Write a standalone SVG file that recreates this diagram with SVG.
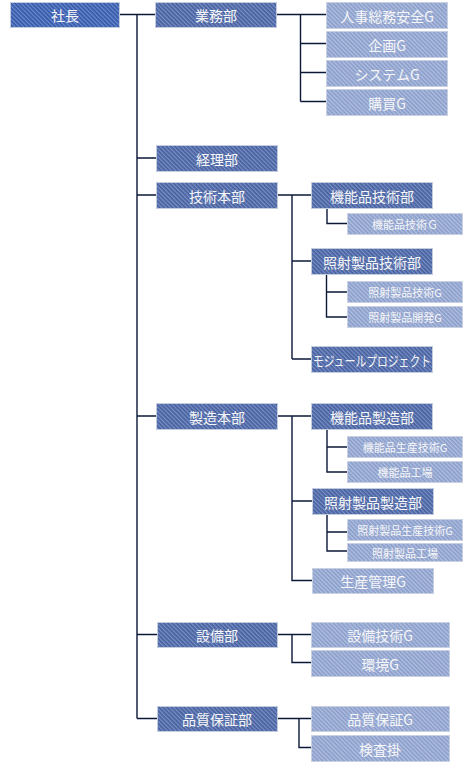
<svg xmlns="http://www.w3.org/2000/svg" width="473" height="773" viewBox="0 0 473 773">
<defs>
<pattern id="pTop" width="3" height="3" patternUnits="userSpaceOnUse" patternTransform="rotate(-45)">
<rect width="3" height="3" fill="#3558a6"/><rect width="1.3" height="3" fill="#6a8ad0"/>
</pattern>
<pattern id="pDept" width="3" height="3" patternUnits="userSpaceOnUse" patternTransform="rotate(-45)">
<rect width="3" height="3" fill="#475f9c"/><rect width="1.3" height="3" fill="#7890c6"/>
</pattern>
<pattern id="pG" width="3" height="3" patternUnits="userSpaceOnUse" patternTransform="rotate(-45)">
<rect width="3" height="3" fill="#8a9ecb"/><rect width="1.3" height="3" fill="#b2c0df"/>
</pattern>
<style>
.top{fill:url(#pTop);stroke:#c4cce0;stroke-width:1}
.dept{fill:url(#pDept);stroke:#c4cce0;stroke-width:1}
.g{fill:url(#pG);stroke:#c8d0e2;stroke-width:1}
text{font-family:"Noto Sans CJK JP","Noto Sans",sans-serif;fill:#f6f6f8;text-anchor:middle;dominant-baseline:central;font-size:14px}
text.s{font-size:11px}
.c{fill:none;stroke:#0b1838;stroke-width:1.4}
</style>
</defs>
<g id="connectors">
<path class="c" d="M119,14.5H155M137,14.5V718.5M137,158H156M137,195H156M137,416H156M137,634.5H157M137,718.5H157"/>
<path class="c" d="M276,14.5H326M300.5,14.5V101.5M300.5,43.5H326M300.5,72.5H326M300.5,101.5H326"/>
<path class="c" d="M277,195H311M292,195V359M292,261H311M292,359H311"/>
<path class="c" d="M327,208V223.5H347"/>
<path class="c" d="M326.5,274V317H347M326.5,292H347"/>
<path class="c" d="M277,416H311M292,416V580.5H312M292,501H312"/>
<path class="c" d="M327,429V472H347M327,447H347"/>
<path class="c" d="M327,514V551H347M327,532H347"/>
<path class="c" d="M277,634.5H311M292,634.5V662.5H311"/>
<path class="c" d="M277,718.5H311M299,718.5V747.5H311"/>
</g>
<g id="n-shacho"><rect class="top" x="10.5" y="2.5" width="109" height="25"/><text x="65" y="15">社長</text></g>
<g id="n-gyomu"><rect class="dept" x="155.5" y="2.5" width="121" height="25"/><text x="216" y="15">業務部</text></g>
<g id="n-jinji"><rect class="g" x="326.5" y="2.5" width="121" height="26"/><text x="387" y="15.5">人事総務安全G</text></g>
<g id="n-kikaku"><rect class="g" x="326.5" y="31.5" width="121" height="26"/><text x="387" y="44.5">企画G</text></g>
<g id="n-system"><rect class="g" x="326.5" y="60.5" width="121" height="26"/><text x="387" y="73.5">システムG</text></g>
<g id="n-kobai"><rect class="g" x="326.5" y="89.5" width="121" height="26"/><text x="387" y="102.5">購買G</text></g>
<g id="n-keiri"><rect class="dept" x="156.5" y="145.5" width="121" height="26"/><text x="217" y="158.5">経理部</text></g>
<g id="n-gijutsu"><rect class="dept" x="156.5" y="182.5" width="121" height="26"/><text x="217" y="195.5">技術本部</text></g>
<g id="n-kinogijutsubu"><rect class="dept" x="311.5" y="182.5" width="121" height="26"/><text x="372" y="195.5">機能品技術部</text></g>
<g id="n-kinogijutsuG"><rect class="g" x="347.5" y="213.5" width="115" height="21"/><text class="s" x="405" y="224">機能品技術Ｇ</text></g>
<g id="n-shoshagijutsubu"><rect class="dept" x="311.5" y="248.5" width="121" height="26"/><text x="372" y="261.5">照射製品技術部</text></g>
<g id="n-shoshagijutsuG"><rect class="g" x="347.5" y="281.5" width="115" height="21"/><text class="s" x="405" y="292">照射製品技術G</text></g>
<g id="n-shoshakaihatsuG"><rect class="g" x="347.5" y="306.5" width="115" height="21"/><text class="s" x="405" y="317">照射製品開発G</text></g>
<g id="n-module"><rect class="dept" x="311.5" y="346.5" width="121" height="26"/><text x="372" y="359.5" textLength="118" lengthAdjust="spacingAndGlyphs">モジュールプロジェクト</text></g>
<g id="n-seizo"><rect class="dept" x="156.5" y="403.5" width="121" height="26"/><text x="217" y="416.5">製造本部</text></g>
<g id="n-kinoseizobu"><rect class="dept" x="311.5" y="403.5" width="121" height="26"/><text x="372" y="416.5">機能品製造部</text></g>
<g id="n-kinoseisangijutsuG"><rect class="g" x="347.5" y="436.5" width="115" height="21"/><text class="s" x="405" y="447">機能品生産技術G</text></g>
<g id="n-kinokojo"><rect class="g" x="347.5" y="461.5" width="115" height="21"/><text class="s" x="405" y="472">機能品工場</text></g>
<g id="n-shoshaseizobu"><rect class="dept" x="312.5" y="488.5" width="121" height="26"/><text x="373" y="501.5">照射製品製造部</text></g>
<g id="n-shoshaseisangijutsuG"><rect class="g" x="347.5" y="519.5" width="115" height="21"/><text class="s" x="405" y="530">照射製品生産技術G</text></g>
<g id="n-shoshakojo"><rect class="g" x="347.5" y="543.5" width="115" height="18"/><text class="s" x="405" y="552.5">照射製品工場</text></g>
<g id="n-seisankanri"><rect class="g" x="312.5" y="568.5" width="121" height="25"/><text x="373" y="581">生産管理G</text></g>
<g id="n-setsubi"><rect class="dept" x="157.5" y="622.5" width="120" height="25"/><text x="217" y="635">設備部</text></g>
<g id="n-setsubigijutsuG"><rect class="g" x="311.5" y="622.5" width="138" height="25"/><text x="380" y="635">設備技術G</text></g>
<g id="n-kankyoG"><rect class="g" x="311.5" y="650.5" width="138" height="26"/><text x="380" y="663.5">環境G</text></g>
<g id="n-hinshitsu"><rect class="dept" x="157.5" y="706.5" width="120" height="25"/><text x="217" y="719">品質保証部</text></g>
<g id="n-hinshitsuG"><rect class="g" x="311.5" y="706.5" width="138" height="25"/><text x="380" y="719">品質保証G</text></g>
<g id="n-kensa"><rect class="g" x="311.5" y="735.5" width="138" height="26"/><text x="380" y="748.5">検査掛</text></g>
</svg>
